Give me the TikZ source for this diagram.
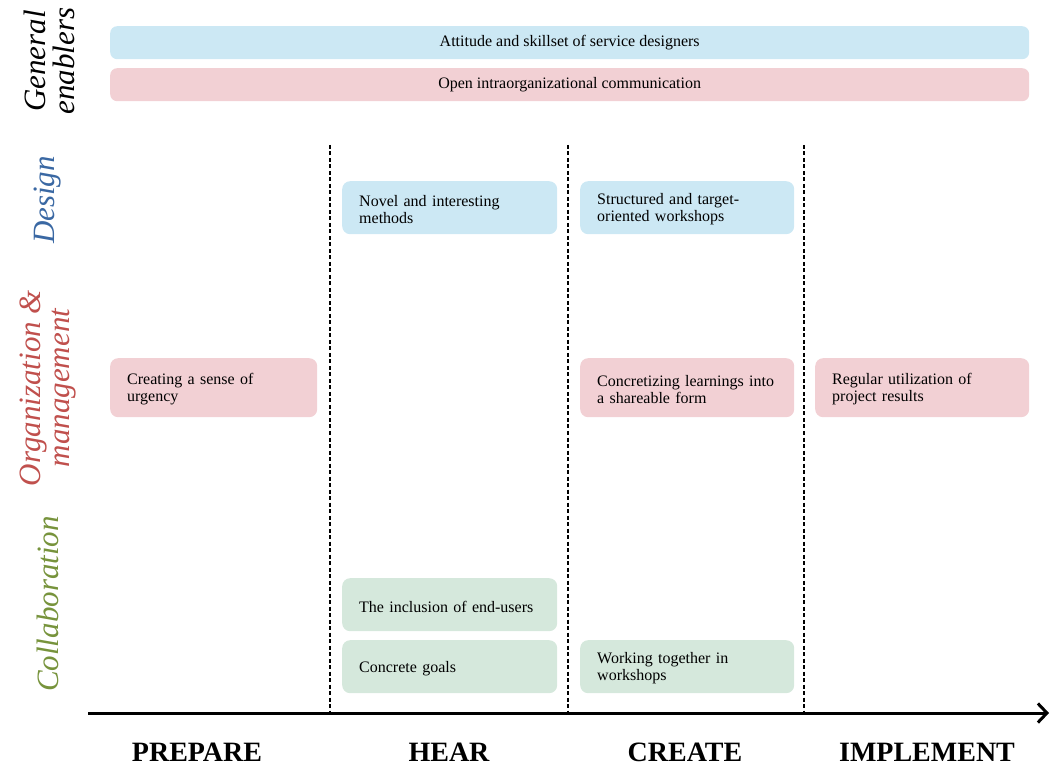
\documentclass[tikz,border=0pt]{standalone}
\usepackage{fontspec}
\setmainfont{Liberation Serif}
\usetikzlibrary{arrows.meta}

\definecolor{cardblue}{HTML}{CCE8F4}
\definecolor{cardpink}{HTML}{F2D0D4}
\definecolor{cardgreen}{HTML}{D5E8DC}
\definecolor{designcol}{HTML}{3A68A3}
\definecolor{orgcol}{HTML}{C0504D}
\definecolor{collabcol}{HTML}{77933C}

\tikzset{
  card/.style={rounded corners=8pt, draw=none, anchor=north west,
    inner xsep=17pt, inner ysep=0pt, align=left,
    font=\fontsize{16}{17}\selectfont},
  bar/.style={rounded corners=7pt, draw=none, anchor=north west,
    inner sep=0pt, align=center, minimum width=919pt, minimum height=33pt,
    font=\fontsize{16}{17}\selectfont},
  rowlabel/.style={rotate=90, align=center,
    font=\fontsize{31}{29}\selectfont\itshape},
  phase/.style={font=\fontsize{28}{30}\selectfont\bfseries},
  divider/.style={line width=1.4pt, dash pattern=on 4pt off 2.5pt},
  axis/.style={line width=3pt, -{Straight Barb[length=9pt,width=19pt,line width=3pt]}}
}
% taller first line, which lowers the text block a little inside a card
\newcommand{\cardstrut}{\rule{0pt}{15pt}}

\begin{document}
\begin{tikzpicture}[x=1pt,y=-1pt]
\useasboundingbox (0,0) rectangle (1050,767);

% row labels
\node[rowlabel] (lgeneral) at (49,61) {General\\enablers};
\node[rowlabel, text=designcol] (ldesign) at (48,200) {Design};
\node[rowlabel, text=orgcol] (lorg) at (48,388) {Organization \&\\management};
\node[rowlabel, text=collabcol] (lcollab) at (48,604) {Collaboration};

% general enablers
\node[bar, fill=cardblue] (attitude) at (110,26) {Attitude and skillset of service designers};
\node[bar, fill=cardpink] (openc) at (110,68) {Open intraorganizational communication};

% phase dividers
\coordinate (d1t) at (330,145); \coordinate (d1b) at (330,713);
\coordinate (d2t) at (568,145); \coordinate (d2b) at (568,713);
\coordinate (d3t) at (804,145); \coordinate (d3b) at (804,713);
\draw[divider] (d1t) -- (d1b);
\draw[divider] (d2t) -- (d2b);
\draw[divider] (d3t) -- (d3b);

% design row
\node[card, fill=cardblue, text width=181pt, minimum height=53pt] (novel) at (342,181) {\cardstrut Novel and interesting\\methods};
\node[card, fill=cardblue, text width=180pt, minimum height=53pt] (structured) at (580,181) {\cardstrut Structured and target-\\oriented workshops};

% organization row
\node[card, fill=cardpink, text width=173pt, minimum height=59pt] (urgency) at (110,358) {\cardstrut Creating a sense of\\urgency};
\node[card, fill=cardpink, text width=180pt, minimum height=59pt] (concretizing) at (580,358) {\cardstrut Concretizing learnings into\\a shareable form};
\node[card, fill=cardpink, text width=180pt, minimum height=59pt] (regular) at (815,358) {\cardstrut Regular utilization of\\project results};

% collaboration row
\node[card, fill=cardgreen, text width=181pt, minimum height=53pt] (inclusion) at (342,578) {\cardstrut The inclusion of end-users};
\node[card, fill=cardgreen, text width=181pt, minimum height=53pt] (goals) at (342,640) {\cardstrut Concrete goals};
\node[card, fill=cardgreen, text width=180pt, minimum height=53pt] (working) at (580,640) {\cardstrut Working together in\\workshops};

% time axis
\coordinate (axstart) at (88,713);
\coordinate (axend) at (1049,713);
\draw[axis] (axstart) -- (axend);

% phases
\node[phase] (prepare) at (197,752) {PREPARE};
\node[phase] (hear) at (449,752) {HEAR};
\node[phase] (create) at (685,752) {CREATE};
\node[phase] (implement) at (927,752) {IMPLEMENT};
\end{tikzpicture}
\end{document}
